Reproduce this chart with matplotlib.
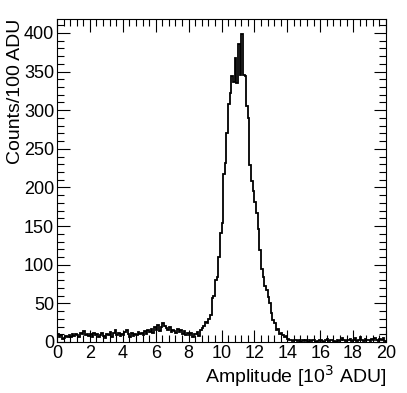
import numpy as np
import matplotlib
matplotlib.use("Agg")
import matplotlib.pyplot as plt
from matplotlib.ticker import MultipleLocator

plt.rcParams['font.family'] = ['Liberation Sans', 'DejaVu Sans']

# counts per 100 ADU bin, 0 .. 20 x 10^3 ADU
counts = [
    10, 7, 9, 4, 5, 8, 7, 9, 6, 10,
    8, 11, 9, 7, 12, 10, 14, 9, 11, 8,
    10, 7, 12, 9, 11, 6, 9, 12, 8, 5,
    11, 9, 13, 7, 12, 15, 9, 12, 8, 10,
    9, 13, 16, 10, 7, 12, 8, 11, 9, 13,
    10, 12, 9, 14, 11, 15, 13, 17, 12, 19,
    16, 22, 14, 20, 25, 21, 18, 15, 19, 13,
    16, 14, 12, 17, 13, 15, 11, 14, 9, 12,
    9, 12, 7, 11, 10, 13, 8, 15, 18, 21,
    26, 24, 30, 35, 57, 60, 80, 84, 110, 141,
    154, 218, 232, 270, 308, 322, 344, 337, 367, 335,
    386, 346, 399, 345, 344, 306, 290, 229, 208, 196,
    181, 167, 146, 119, 95, 84, 72, 67, 58, 50,
    37, 28, 24, 15, 17, 11, 12, 9, 6, 8,
    4, 2, 3, 1, 2, 3, 1, 2, 0, 2,
    1, 2, 0, 3, 1, 2, 2, 0, 1, 3,
    2, 1, 0, 2, 4, 1, 2, 3, 1, 0,
    3, 1, 2, 5, 2, 1, 3, 2, 4, 1,
    2, 5, 1, 3, 6, 2, 1, 4, 2, 3,
    1, 4, 2, 5, 3, 1, 4, 2, 5, 1,
]
x_min, x_max = 0.0, 20.0
y_max = 418

edges = np.linspace(x_min, x_max, len(counts) + 1)

fig = plt.figure(figsize=(4.07, 3.93), dpi=100)
ax = fig.add_axes([57 / 407, 51 / 393, 329 / 407, 323 / 393])

ax.stairs(counts, edges, color='black', linewidth=1.3, baseline=0)

ax.set_xlim(x_min, x_max)
ax.set_ylim(0, y_max)
ax.xaxis.set_major_locator(MultipleLocator(2))
ax.xaxis.set_minor_locator(MultipleLocator(0.4))
ax.yaxis.set_major_locator(MultipleLocator(50))
ax.yaxis.set_minor_locator(MultipleLocator(10))
ax.tick_params(which='both', direction='in', top=True, right=True,
               labelsize=13, width=0.8, colors='black')
ax.tick_params(which='major', length=9, pad=2)
ax.tick_params(which='minor', length=5)

ax.set_xlabel('Amplitude [10$^3$ ADU]', fontsize=14, loc='right', labelpad=1)
ax.set_ylabel('Counts/100 ADU', fontsize=14, loc='top', labelpad=0)

fig.savefig('out.png', dpi=100)
